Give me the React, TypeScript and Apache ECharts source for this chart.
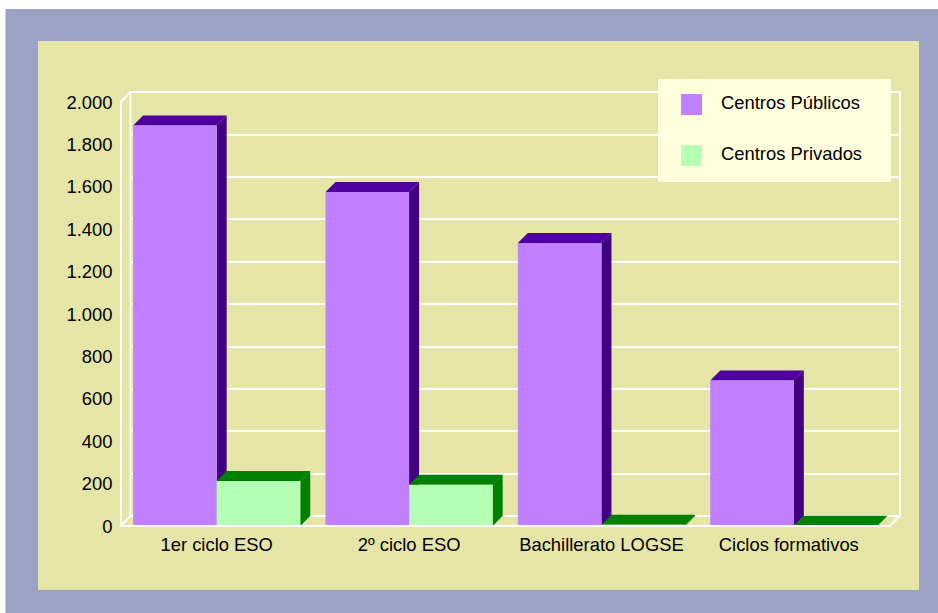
import React, { useEffect, useRef } from "react";
import * as echarts from "echarts";

const categories = ["1er ciclo ESO", "2º ciclo ESO", "Bachillerato LOGSE", "Ciclos formativos"];
const publicos = [1889, 1575, 1335, 686];
const privados = [212, 195, 6, 1];
const seriesNames = ["Centros Públicos", "Centros Privados"];
const seriesColors = ["#C080FF", "#B4FFB4"];

const DEPTH = 10;
const BAR_RATIO = 0.4345;
const FONT = "'Liberation Sans', Arial, sans-serif";
const FRONT = { left: 120.5, top: 102, width: 769.5, height: 424 };
const BACK = { left: FRONT.left + DEPTH, top: FRONT.top - DEPTH, width: FRONT.width, height: FRONT.height };

const fmt = (v: number) => String(v).replace(/\B(?=(\d{3})+$)/g, ".");

function barRenderer(side: -1 | 1, front: string, top: string, right: string) {
  return (_p: any, api: any) => {
    const i = api.value(0);
    const c = api.coord([i, api.value(1)]);
    const base = api.coord([i, 0]);
    const w = api.size([1, 0])[0] * BAR_RATIO;
    const x0 = side < 0 ? c[0] - w : c[0];
    const x1 = x0 + w;
    const y = c[1];
    const d = DEPTH;
    return {
      type: "group",
      children: [
        { type: "polygon", shape: { points: [[x1, y], [x1 + d, y - d], [x1 + d, base[1] - d], [x1, base[1]]] }, style: { fill: right } },
        { type: "polygon", shape: { points: [[x0, y], [x0 + d, y - d], [x1 + d, y - d], [x1, y]] }, style: { fill: top } },
        { type: "rect", shape: { x: x0, y, width: w, height: base[1] - y }, style: { fill: front } },
      ],
    };
  };
}

function frameRenderer(params: any) {
  const { x, y, width, height } = params.coordSys;
  const line = (x1: number, y1: number) => ({
    type: "line",
    shape: { x1, y1, x2: x1 + DEPTH, y2: y1 - DEPTH },
    style: { stroke: "#ffffff", lineWidth: 1.8 },
  });
  return { type: "group", children: [line(x, y), line(x, y + height), line(x + width, y + height)] };
}

export default function App() {
  const ref = useRef<HTMLDivElement>(null);
  useEffect(() => {
    const chart = echarts.init(ref.current!, undefined, { renderer: "svg" });
    const axisText = { color: "#000000", fontSize: 18.4, fontFamily: FONT };
    const white = { color: "#ffffff", width: 1.8 };
    const legendItems = seriesNames.flatMap((name, i) => [
      { type: "rect", z: 11, silent: true, shape: { x: 681, y: 94 + i * 51, width: 21, height: 21 }, style: { fill: seriesColors[i] } },
      {
        type: "text", z: 11, silent: true, x: 721, y: 102.5 + i * 51,
        style: { text: name, fill: "#000000", font: `18.4px ${FONT}`, textVerticalAlign: "middle", verticalAlign: "middle" },
      },
    ]);
    chart.setOption({
      animation: false,
      backgroundColor: "transparent",
      graphic: [
        { type: "rect", z: -10, silent: true, shape: { x: 5.5, y: 9, width: 933, height: 604 }, style: { fill: "#9CA2C4" } },
        { type: "rect", z: -9, silent: true, shape: { x: 38, y: 41, width: 881, height: 549 }, style: { fill: "#E6E5A8" } },
        { type: "rect", z: 10, silent: true, shape: { x: 658, y: 79, width: 233, height: 103 }, style: { fill: "#FFFFDD" } },
        ...legendItems,
      ],
      grid: [
        { ...FRONT, containLabel: false },
        { ...BACK, containLabel: false, show: true, borderColor: "#ffffff", borderWidth: 1.8, backgroundColor: "transparent" },
      ],
      xAxis: [
        {
          type: "category", gridIndex: 0, z: 5,
          data: categories.map((c, i) => (i === 3 ? { value: c, textStyle: { padding: [0, 10, 0, 0] } } : c)),
          axisLine: { show: true, lineStyle: white }, axisTick: { show: false },
          axisLabel: { ...axisText, margin: 9, interval: 0 }, splitLine: { show: false },
        },
        { type: "category", gridIndex: 1, data: categories, show: false },
      ],
      yAxis: [
        {
          type: "value", gridIndex: 0, min: 0, max: 2000, interval: 200, z: 5,
          axisLine: { show: true, lineStyle: white }, axisTick: { show: false },
          axisLabel: { ...axisText, margin: 8, formatter: fmt }, splitLine: { show: false },
        },
        {
          type: "value", gridIndex: 1, min: 0, max: 2000, interval: 200,
          axisLine: { show: false }, axisTick: { show: false }, axisLabel: { show: false },
          splitLine: { show: true, lineStyle: white },
        },
      ],
      series: [
        {
          type: "custom", name: "frame", xAxisIndex: 0, yAxisIndex: 0, clip: false, silent: true, z: 1,
          renderItem: frameRenderer, data: [[0, 0]],
        },
        {
          type: "custom", name: seriesNames[0], xAxisIndex: 0, yAxisIndex: 0, clip: false, z: 2,
          itemStyle: { color: seriesColors[0] },
          renderItem: barRenderer(-1, seriesColors[0], "#5000A0", "#400080"),
          encode: { x: 0, y: 1 }, data: publicos.map((v, i) => [i, v]),
        },
        {
          type: "custom", name: seriesNames[1], xAxisIndex: 0, yAxisIndex: 0, clip: false, z: 3,
          itemStyle: { color: seriesColors[1] },
          renderItem: barRenderer(1, seriesColors[1], "#008000", "#008000"),
          encode: { x: 0, y: 1 }, data: privados.map((v, i) => [i, v]),
        },
      ],
    });
    return () => chart.dispose();
  }, []);
  return <div ref={ref} style={{ position: "fixed", left: 0, top: 0, width: 938, height: 613, background: "#ffffff" }} />;
}
